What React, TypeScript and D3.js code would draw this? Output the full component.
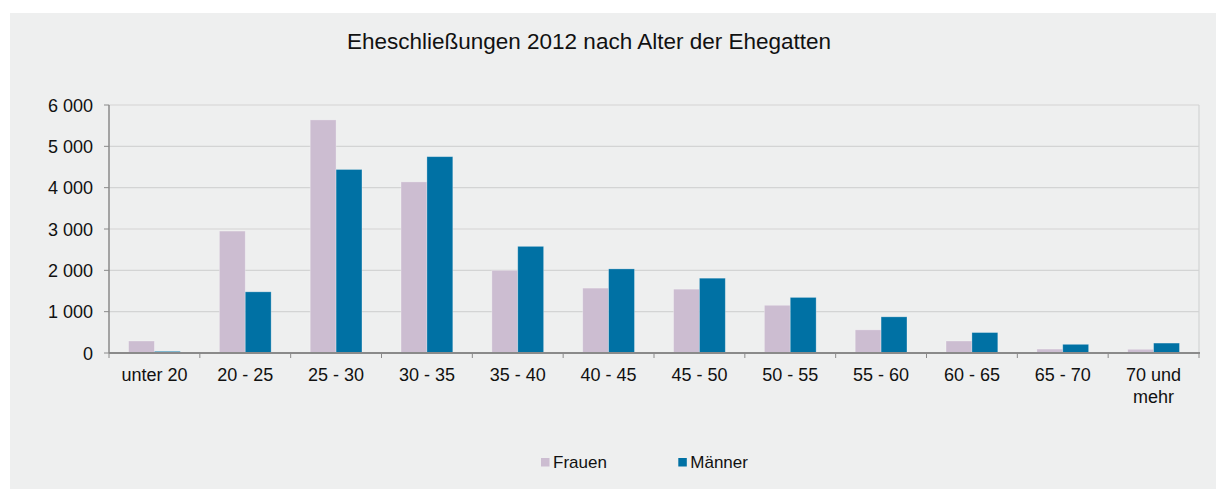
import React from "react";
import * as d3 from "d3";

const categories = ["unter 20", "20 - 25", "25 - 30", "30 - 35", "35 - 40", "40 - 45", "45 - 50", "50 - 55", "55 - 60", "60 - 65", "65 - 70", "70 und mehr"];
const frauen = [290, 2950, 5640, 4140, 2000, 1570, 1545, 1155, 560, 290, 95, 90];
const maenner = [40, 1480, 4440, 4750, 2580, 2035, 1810, 1345, 875, 495, 210, 240];
const yTicks = [0, 1000, 2000, 3000, 4000, 5000, 6000];
const seriesNames = ["Frauen", "Männer"];
const colors = ["#CCBDD1", "#0071A4"];

const W = 1216, H = 489;
const m = { left: 109, right: 17, top: 105, bottom: 136 };

export default function App() {
  const x = d3.scaleBand<string>().domain(categories).range([m.left, W - m.right]).paddingInner(0.43).paddingOuter(0.215);
  const y = d3.scaleLinear().domain([0, 6000]).range([H - m.bottom, m.top]);
  const inner = d3.scaleBand<number>().domain([0, 1]).range([0, x.bandwidth()]);
  const step = (W - m.right - m.left) / categories.length;
  const fmt = (v: number) => d3.format(",")(v).replace(/,/g, " ");
  const font = "'Liberation Sans', Arial, sans-serif";

  return (
    <svg width={W} height={H} style={{ position: "absolute", left: 0, top: 0, fontFamily: font }}>
      <rect x={0} y={0} width={W} height={H} fill="#ffffff" />
      <rect x={10} y={13} width={W - 10} height={H - 13} fill="#EEEFEF" />
      <text x={589} y={49} textAnchor="middle" fontSize={22.5} fill="#111">Eheschließungen 2012 nach Alter der Ehegatten</text>
      {yTicks.map(t => (
        <g key={t}>
          {t > 0 && <line x1={m.left} x2={W - m.right} y1={y(t)} y2={y(t)} stroke="#D3D4D4" strokeWidth={1.2} />}
          <line x1={m.left - 5} x2={m.left} y1={y(t)} y2={y(t)} stroke="#8A8A8A" />
          <text x={93} y={y(t) + 6.5} textAnchor="end" fontSize={18} fill="#111">{fmt(t)}</text>
        </g>
      ))}
      <line x1={W - m.right} x2={W - m.right} y1={m.top} y2={y(0)} stroke="#D3D4D4" strokeWidth={1.2} />
      {categories.map((c, i) => (
        <g key={c}>
          {[frauen[i], maenner[i]].map((v, s) => (
            <rect key={s} x={x(c)! + inner(s)!} y={y(v)} width={inner.bandwidth()} height={y(0) - y(v)} fill={colors[s]} stroke="#ffffff" strokeOpacity={0.35} strokeWidth={0.8} />
          ))}
        </g>
      ))}
      <line x1={m.left} x2={m.left} y1={m.top} y2={y(0)} stroke="#8A8A8A" strokeWidth={1.5} />
      <line x1={m.left} x2={W - m.right + 1} y1={y(0)} y2={y(0)} stroke="#8A8A8A" strokeWidth={2} />
      {d3.range(categories.length + 1).map(k => (
        <line key={k} x1={m.left + k * step} x2={m.left + k * step} y1={y(0)} y2={y(0) + 5} stroke="#8A8A8A" />
      ))}
      {categories.map(c => {
        const cx = x(c)! + x.bandwidth() / 2;
        const lines = c === "70 und mehr" ? ["70 und", "mehr"] : [c];
        return (
          <text key={c} x={cx} y={381} textAnchor="middle" fontSize={18} fill="#111">
            {lines.map((l, j) => <tspan key={j} x={cx} dy={j === 0 ? 0 : 22}>{l}</tspan>)}
          </text>
        );
      })}
      {seriesNames.map((n, i) => {
        const lx = 541 + i * 137.3;
        return (
          <g key={n}>
            <rect x={lx} y={458} width={8.5} height={8.5} fill={colors[i]} />
            <text x={lx + 12} y={468} fontSize={17} fill="#111">{n}</text>
          </g>
        );
      })}
    </svg>
  );
}
